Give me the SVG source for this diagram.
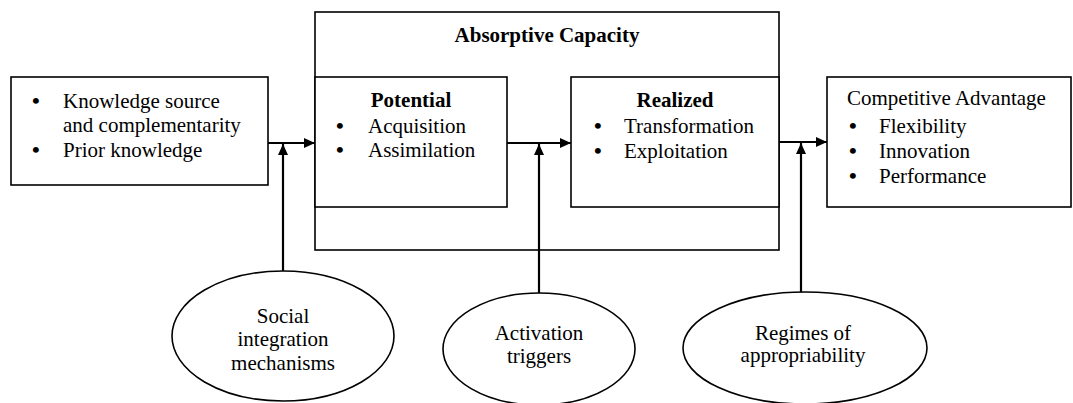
<svg xmlns="http://www.w3.org/2000/svg" width="1073" height="403" viewBox="0 0 1073 403">
  <style>
    .box { fill: #fff; stroke: #000; stroke-width: 1.6; }
    .oval { fill: #fff; stroke: #000; stroke-width: 1.6; }
    .link { fill: none; stroke: #000; stroke-width: 2.2; marker-end: url(#arrow); }
    text { font-family: "Liberation Serif", "Times New Roman", serif; font-size: 21px; fill: #000; }
    .bold { font-weight: bold; }
    .mid { text-anchor: middle; }
    .dot { font-size: 22px; font-weight: bold; }
  </style>
  <defs>
    <marker id="arrow" viewBox="0 0 11 10" refX="11" refY="5" markerWidth="11" markerHeight="10" markerUnits="userSpaceOnUse" orient="auto">
      <path d="M0,0 L11,5 L0,10 z" fill="#000"/>
    </marker>
  </defs>

  <rect width="1073" height="403" fill="#fff"/>

  <!-- antecedents -->
  <g id="antecedents">
    <rect class="box" x="11" y="77" width="257" height="108"/>
    <text class="dot" x="32" y="108">•</text>
    <text x="63" y="108">Knowledge source</text>
    <text x="63" y="132">and complementarity</text>
    <text class="dot" x="32" y="157">•</text>
    <text x="63" y="157">Prior knowledge</text>
  </g>

  <!-- absorptive capacity container -->
  <g id="absorptive-capacity">
    <rect class="box" x="315" y="12" width="464" height="238"/>
    <text class="bold mid" x="547" y="42">Absorptive Capacity</text>
  </g>

  <g id="potential">
    <rect class="box" x="315" y="77" width="192" height="130"/>
    <text class="bold mid" x="411" y="107">Potential</text>
    <text class="dot" x="336" y="133">•</text>
    <text x="368" y="133">Acquisition</text>
    <text class="dot" x="336" y="157">•</text>
    <text x="368" y="157">Assimilation</text>
  </g>

  <g id="realized">
    <rect class="box" x="571" y="77" width="208" height="130"/>
    <text class="bold mid" x="675" y="107">Realized</text>
    <text class="dot" x="594" y="133">•</text>
    <text x="624" y="133">Transformation</text>
    <text class="dot" x="594" y="158">•</text>
    <text x="624" y="158">Exploitation</text>
  </g>

  <g id="competitive-advantage">
    <rect class="box" x="827" y="77" width="244" height="130"/>
    <text x="847" y="105">Competitive Advantage</text>
    <text class="dot" x="849" y="133">•</text>
    <text x="879" y="133">Flexibility</text>
    <text class="dot" x="849" y="158">•</text>
    <text x="879" y="158">Innovation</text>
    <text class="dot" x="849" y="183">•</text>
    <text x="879" y="183">Performance</text>
  </g>

  <!-- moderators -->
  <g id="social-integration">
    <ellipse class="oval" cx="283" cy="336" rx="111" ry="65"/>
    <text class="mid" x="283" y="323">Social</text>
    <text class="mid" x="283" y="346">integration</text>
    <text class="mid" x="283" y="370">mechanisms</text>
  </g>

  <g id="activation-triggers">
    <ellipse class="oval" cx="539" cy="349" rx="96" ry="56"/>
    <text class="mid" x="539" y="340">Activation</text>
    <text class="mid" x="539" y="363">triggers</text>
  </g>

  <g id="appropriability">
    <ellipse class="oval" cx="805" cy="348" rx="122" ry="56"/>
    <text class="mid" x="803" y="340">Regimes of</text>
    <text class="mid" x="803" y="362">appropriability</text>
  </g>

  <!-- connectors -->
  <g id="connectors">
    <line class="link" x1="268" y1="143" x2="315" y2="143"/>
    <line class="link" x1="283" y1="271" x2="283" y2="144"/>
    <line class="link" x1="507" y1="143" x2="571" y2="143"/>
    <line class="link" x1="539" y1="293" x2="539" y2="144"/>
    <line class="link" x1="779" y1="142" x2="827" y2="142"/>
    <line class="link" x1="801" y1="292" x2="801" y2="143"/>
  </g>
</svg>
